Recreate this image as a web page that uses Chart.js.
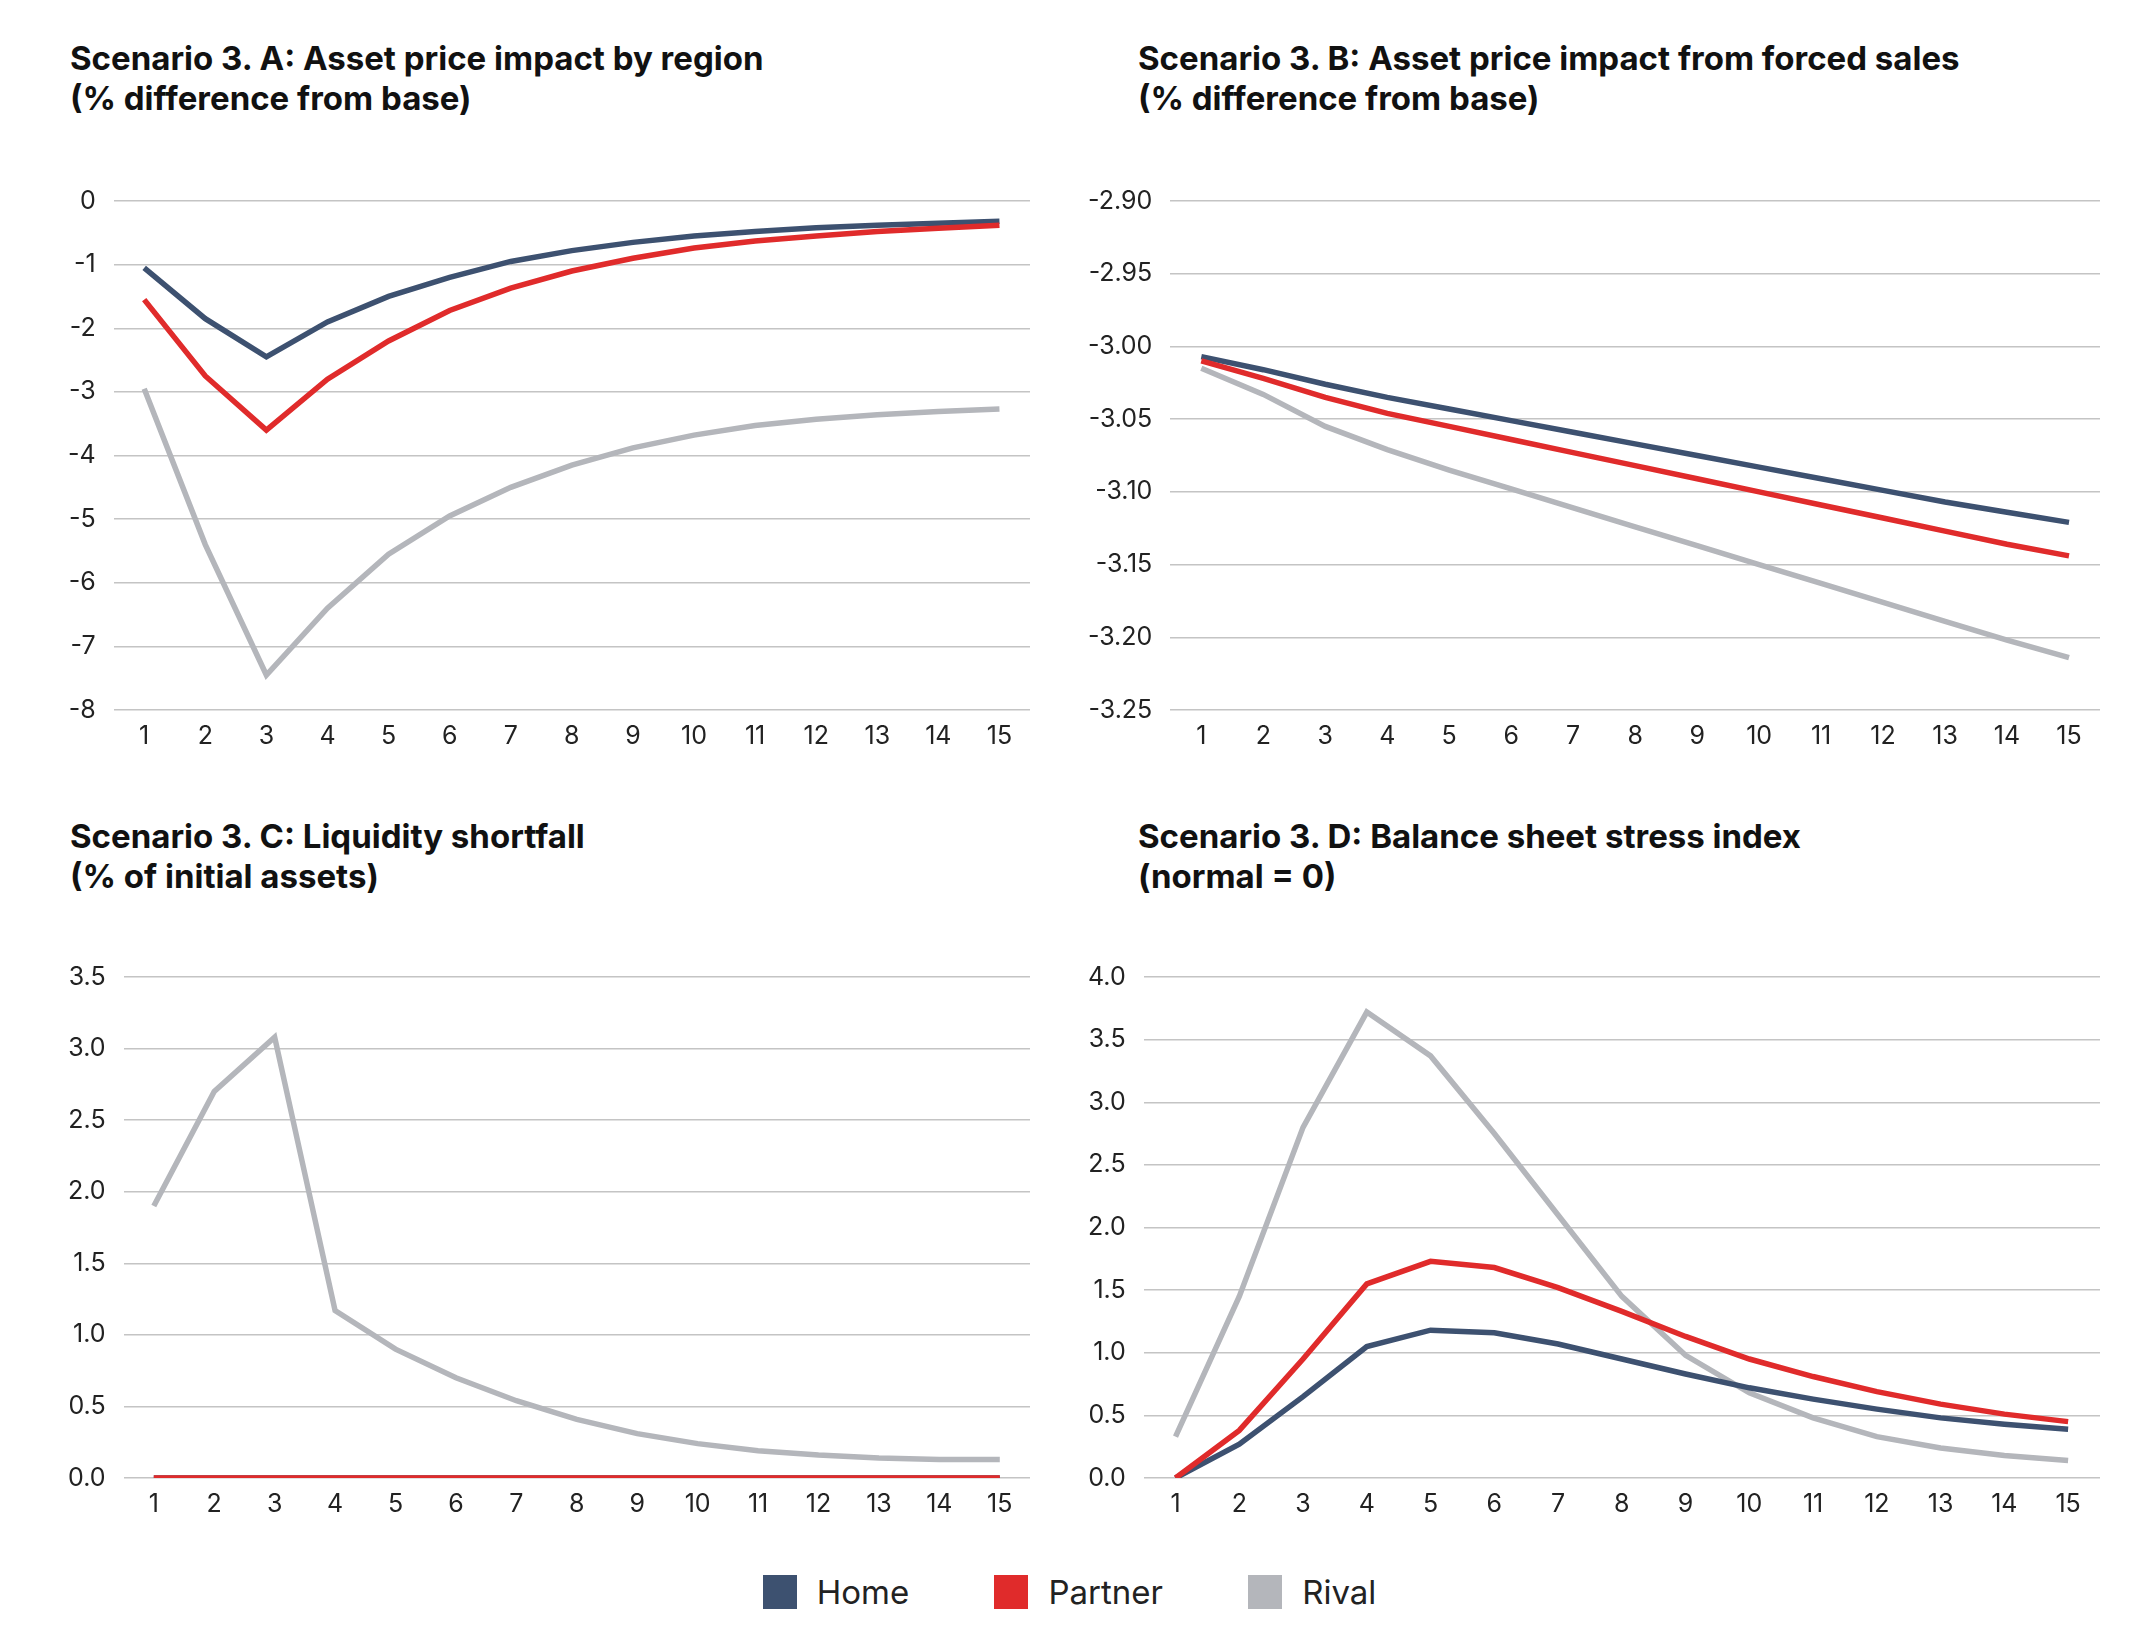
<!DOCTYPE html>
<html>
<head>
<meta charset="utf-8">
<script src="https://cdn.jsdelivr.net/npm/chart.js@4/dist/chart.umd.min.js"></script>
<style>
  body { margin: 0; background: #fff; font-family: Inter, "Noto Sans", sans-serif; }
  #wrap { position: relative; width: 2139px; height: 1636px; }
  .title { position: absolute; font-weight: 700; font-size: 33px; line-height: 40px; color: #111; }
  .box { position: absolute; }
  #legend { position: absolute; top: 1572px; left: 0; width: 2139px; text-align: center; font-size: 33px; color: #222; }
  #legend span { display: inline-block; margin: 0 38px; }
  #legend i { display: inline-block; width: 34px; height: 34px; vertical-align: -5px; margin-right: 20px; }
</style>
</head>
<body>
<div id="wrap">
  <div class="title" style="left:70px;top:38px">Scenario 3. A: Asset price impact by region<br>(% difference from base)</div>
  <div class="title" style="left:1138px;top:38px">Scenario 3. B: Asset price impact from forced sales<br>(% difference from base)</div>
  <div class="title" style="left:70px;top:816px">Scenario 3. C: Liquidity shortfall<br>(% of initial assets)</div>
  <div class="title" style="left:1138px;top:816px">Scenario 3. D: Balance sheet stress index<br>(normal = 0)</div>
  <div class="box" style="left:50px;top:168px;width:980px;height:586px"><canvas id="cA"></canvas></div>
  <div class="box" style="left:1070px;top:168px;width:1030px;height:586px"><canvas id="cB"></canvas></div>
  <div class="box" style="left:50px;top:944px;width:980px;height:578px"><canvas id="cC"></canvas></div>
  <div class="box" style="left:1070px;top:944px;width:1030px;height:578px"><canvas id="cD"></canvas></div>
  <div id="legend">
    <span><i style="background:#3d5170"></i>Home</span>
    <span><i style="background:#e02b2b"></i>Partner</span>
    <span><i style="background:#b4b6bb"></i>Rival</span>
  </div>
</div>
<script>
// x-axis periods
const periods = ['1','2','3','4','5','6','7','8','9','10','11','12','13','14','15'];

// Panel A: asset price impact by region
const homeA = [-1.05,-1.85,-2.45,-1.9,-1.5,-1.2,-0.95,-0.78,-0.65,-0.55,-0.48,-0.42,-0.38,-0.35,-0.32];
const partnerA = [-1.55,-2.75,-3.6,-2.8,-2.2,-1.72,-1.37,-1.1,-0.9,-0.74,-0.63,-0.55,-0.48,-0.43,-0.38];
const rivalA = [-2.95,-5.4,-7.45,-6.4,-5.55,-4.95,-4.5,-4.15,-3.88,-3.68,-3.53,-3.43,-3.36,-3.31,-3.27];

// Panel B: forced sales
const homeB = [-3.007,-3.016,-3.026,-3.035,-3.043,-3.051,-3.059,-3.067,-3.075,-3.083,-3.091,-3.099,-3.107,-3.114,-3.121];
const partnerB = [-3.010,-3.022,-3.035,-3.046,-3.055,-3.064,-3.073,-3.082,-3.091,-3.100,-3.109,-3.118,-3.127,-3.136,-3.144];
const rivalB = [-3.015,-3.033,-3.055,-3.071,-3.085,-3.098,-3.111,-3.124,-3.137,-3.150,-3.163,-3.176,-3.189,-3.202,-3.214];

// Panel C: liquidity shortfall
const homeC = [0,0,0,0,0,0,0,0,0,0,0,0,0,0,0];
const partnerC = [0,0,0,0,0,0,0,0,0,0,0,0,0,0,0];
const rivalC = [1.9,2.7,3.08,1.17,0.9,0.7,0.54,0.41,0.31,0.24,0.19,0.16,0.14,0.13,0.13];

// Panel D: stress index
const homeD = [0,0.27,0.65,1.05,1.18,1.16,1.07,0.95,0.83,0.72,0.63,0.55,0.48,0.43,0.39];
const partnerD = [0,0.38,0.95,1.55,1.73,1.68,1.52,1.33,1.13,0.95,0.81,0.69,0.59,0.51,0.45];
const rivalD = [0.33,1.45,2.8,3.72,3.37,2.75,2.1,1.45,0.98,0.68,0.48,0.33,0.24,0.18,0.14];

const colors = { home: '#3d5170', partner: '#e02b2b', rival: '#b4b6bb' };

function makeChart(id, home, partner, rival, min, max, step, decimals) {
    new Chart(document.getElementById(id), {
        type: 'line',
        data: {
            labels: periods,
            datasets: [
                { label: 'Home', data: home, borderColor: colors.home, order: 1 },
                { label: 'Partner', data: partner, borderColor: colors.partner, order: 0 },
                { label: 'Rival', data: rival, borderColor: colors.rival, order: 2 }
            ]
        },
        options: {
            responsive: true,
            maintainAspectRatio: false,
            animation: false,
            elements: {
                line: { borderWidth: 5.5, tension: 0, fill: false },
                point: { radius: 0 }
            },
            plugins: { legend: { display: false }, tooltip: { enabled: false } },
            scales: {
                x: {
                    offset: true,
                    grid: { display: false },
                    border: { display: false },
                    ticks: { color: '#222', font: { size: 25, family: 'Inter' }, maxRotation: 0, autoSkip: false }
                },
                y: {
                    min: min, max: max,
                    grid: { color: '#c4c4c4', lineWidth: 1.5, drawTicks: false },
                    border: { display: false },
                    ticks: {
                        stepSize: step, padding: 18, color: '#222',
                        font: { size: 25, family: 'Inter' },
                        callback: v => Number(v).toFixed(decimals)
                    }
                }
            }
        }
    });
}

makeChart('cA', homeA, partnerA, rivalA, -8, 0, 1, 0);
makeChart('cB', homeB, partnerB, rivalB, -3.25, -2.90, 0.05, 2);
makeChart('cC', homeC, partnerC, rivalC, 0, 3.5, 0.5, 1);
makeChart('cD', homeD, partnerD, rivalD, 0, 4.0, 0.5, 1);
</script>
</body>
</html>
